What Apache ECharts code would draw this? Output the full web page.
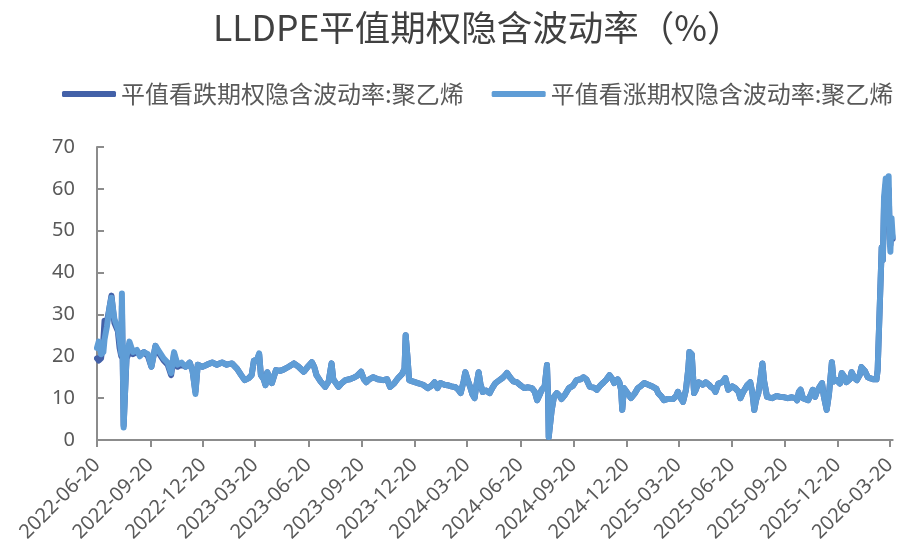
<!DOCTYPE html>
<html>
<head>
<meta charset="utf-8">
<script src="https://cdn.jsdelivr.net/npm/echarts@6/dist/echarts.min.js"></script>
<style>
	html, body { margin: 0; padding: 0; background: #fff; }
	#main { width: 899px; height: 550px; }
</style>
</head>
<body>
<div id="main"></div>
<script>
// 日期（抽样）
var dates = [
	'2022-06-20','2022-06-23','2022-06-27','2022-07-01','2022-07-03','2022-07-07','2022-07-12','2022-07-15','2022-07-20','2022-07-26',
	'2022-07-29','2022-08-01','2022-08-02','2022-08-05','2022-08-10','2022-08-15','2022-08-21','2022-08-28','2022-09-02','2022-09-09',
	'2022-09-16','2022-09-22','2022-09-29','2022-10-06','2022-10-13','2022-10-20','2022-10-26','2022-10-31','2022-11-06','2022-11-13',
	'2022-11-20','2022-11-27','2022-12-02','2022-12-07','2022-12-11','2022-12-19','2022-12-27','2023-01-05','2023-01-13','2023-01-22',
	'2023-01-30','2023-02-08','2023-02-17','2023-02-24','2023-03-02','2023-03-09','2023-03-14','2023-03-18','2023-03-23','2023-03-27',
	'2023-03-30','2023-04-04','2023-04-07','2023-04-10','2023-04-14','2023-04-18','2023-04-25','2023-05-02','2023-05-08','2023-05-17',
	'2023-05-26','2023-06-03','2023-06-12','2023-06-19','2023-06-26','2023-06-30','2023-07-04','2023-07-11','2023-07-19','2023-07-25',
	'2023-07-30','2023-08-02','2023-08-11','2023-08-16','2023-08-23','2023-08-30','2023-09-05','2023-09-12','2023-09-19','2023-09-24',
	'2023-09-28','2023-10-03','2023-10-10','2023-10-18','2023-10-27','2023-11-03','2023-11-08','2023-11-15','2023-11-22','2023-11-29',
	'2023-12-03','2023-12-05','2023-12-08','2023-12-11','2023-12-17','2023-12-26','2024-01-04','2024-01-12','2024-01-19','2024-01-24',
	'2024-01-29','2024-02-03','2024-02-10','2024-02-15','2024-02-22','2024-02-29','2024-03-05','2024-03-09','2024-03-14','2024-03-17',
	'2024-03-22','2024-03-26','2024-03-29','2024-04-02','2024-04-05','2024-04-09','2024-04-12','2024-04-16','2024-04-22','2024-04-28',
	'2024-05-03','2024-05-08','2024-05-15','2024-05-20','2024-05-25','2024-05-28','2024-06-02','2024-06-08','2024-06-14','2024-06-21',
	'2024-06-27','2024-07-02','2024-07-10','2024-07-15','2024-07-19','2024-07-24','2024-07-27','2024-08-01','2024-08-05','2024-08-07',
	'2024-08-08','2024-08-13','2024-08-17','2024-08-22','2024-08-27','2024-08-30','2024-09-05','2024-09-12','2024-09-19','2024-09-25',
	'2024-10-02','2024-10-07','2024-10-12','2024-10-18','2024-10-25','2024-10-30','2024-11-05','2024-11-11','2024-11-16','2024-11-21',
	'2024-11-26','2024-11-29','2024-12-05','2024-12-08','2024-12-11','2024-12-13','2024-12-16','2024-12-23','2024-12-28','2025-01-03',
	'2025-01-09','2025-01-15','2025-01-20','2025-01-27','2025-02-04','2025-02-10','2025-02-13','2025-02-18','2025-02-23','2025-03-02',
	'2025-03-11','2025-03-16','2025-03-19','2025-03-24','2025-03-28','2025-04-02','2025-04-06','2025-04-08','2025-04-12','2025-04-16',
	'2025-04-19','2025-04-24','2025-05-01','2025-05-06','2025-05-11','2025-05-15','2025-05-20','2025-05-23','2025-05-28','2025-06-04',
	'2025-06-09','2025-06-14','2025-06-21','2025-06-26','2025-07-02','2025-07-05','2025-07-10','2025-07-17','2025-07-22','2025-07-26',
	'2025-07-29','2025-08-01','2025-08-05','2025-08-08','2025-08-12','2025-08-15','2025-08-20','2025-08-29','2025-09-05','2025-09-12',
	'2025-09-19','2025-09-25','2025-10-02','2025-10-08','2025-10-11','2025-10-14','2025-10-17','2025-10-21','2025-10-30','2025-11-04',
	'2025-11-07','2025-11-11','2025-11-14','2025-11-18','2025-11-23','2025-11-26','2025-12-01','2025-12-05','2025-12-10','2025-12-13',
	'2025-12-18','2025-12-24','2025-12-27','2026-01-01','2026-01-04','2026-01-10','2026-01-13','2026-01-18','2026-01-22','2026-01-27',
	'2026-01-30','2026-02-05','2026-02-10','2026-02-15','2026-02-20','2026-02-25','2026-02-27','2026-03-06','2026-03-08','2026-03-10',
	'2026-03-13','2026-03-16','2026-03-18','2026-03-20','2026-03-21','2026-03-23','2026-03-25'
];

// 平值看跌期权隐含波动率:聚乙烯
var putIV = [
	19.5,19,19.5,24,28.5,28,32,34.5,28,26,
	22,20,32,3.5,19.5,21,20.5,21,20.5,21,
	20,17.5,22.5,20.5,19,18,15.5,20.5,17.5,18,
	17.5,18.5,16.5,11.5,18,17.5,18,18.5,18,18.5,
	18,18.3,17,15.5,14.3,14.8,15.5,19,19,20.5,
	15.5,14.5,13.1,16.2,15,13.6,16.7,16.5,16.8,17.5,
	18.3,17.5,16.3,17.5,18.6,17.5,15.5,14,12.7,14,
	18.3,14.5,12.7,13.5,14.3,14.5,14.8,15.3,16.3,14.5,
	13.8,14.5,15,14.5,14.3,14.5,12.7,13.5,14.8,15.8,
	17,25,20,14.3,14,13.6,13.2,12.4,13,13.8,
	12.4,13.6,13.2,13.1,12.8,12.6,12,11.2,14,16.2,
	14,12.4,11,10,13,16.2,13.5,11.5,11.8,11.2,
	12.5,13.6,14.3,14.8,15.5,16,15,14,13.8,13,
	12.4,12.6,12.4,11.5,9.5,11,12,12.8,17.9,10,
	0.7,7,10.3,11.2,10.5,9.8,10.8,12.4,13,14.3,
	14.5,15,14.5,12.7,12.5,12,13,13.8,14.5,15.5,
	14.5,13.6,14.5,13.8,12,7.2,12.4,11,10,11,
	12.4,13,13.6,13.2,12.7,12.2,11.2,10.5,9.5,9.8,
	9.8,10.5,11.5,10,9.1,12,17,21,20.5,11.2,
	12,13.8,13.2,13.8,13.3,12.7,12.2,11.5,13.5,13.8,
	14.8,12,12.8,12.4,11.5,10,11.5,13.1,13.8,11,
	7.2,9.5,11.2,14,18.3,14,10.3,10,10.5,10.3,
	10.2,10,10.2,10,9.5,11.5,12,10,9.5,11,
	12,10.3,11.5,12.5,13.6,10.5,7.2,11,18.6,14,
	14.3,13.5,16,15,13.8,14.5,16.2,14.8,14.3,15.5,
	17.4,16.5,15,14.7,14.5,14.5,16.7,46,43,56,
	61,59,60,48,46.5,50,48
];

// 平值看涨期权隐含波动率:聚乙烯
var callIV = [
	22,23.5,20.5,21,24,27,32,34,29,26.5,
	24,20.5,35,3,20,23.5,21,21.5,20,21,
	20.5,17.5,22.5,21,19.5,18.5,16,21,18,18.5,
	17.5,18.5,16.5,11,18,17.5,18,18.5,18,18.5,
	18,18.3,17,15.5,14.3,14.8,15.5,19,19,20.7,
	15.5,14.5,13.1,16.2,15,13.6,16.7,16.5,16.8,17.5,
	18.3,17.5,16.3,17.5,18.6,17.5,15.5,14,12.7,14,
	18.3,14.5,12.7,13.5,14.3,14.5,14.8,15.3,16.3,14.5,
	13.8,14.5,15,14.5,14.3,14.5,12.7,13.5,14.8,15.8,
	17,25,20,14.3,14,13.6,13.2,12.4,13,13.8,
	12.4,13.6,13.2,13.1,12.8,12.6,12,11.2,14,16.2,
	14,12.4,11,10,13,16.2,13.5,11.5,11.8,11.2,
	12.5,13.6,14.3,14.8,15.5,16,15,14,13.8,13,
	12.4,12.6,12.4,11.5,9.5,11,12,12.8,17.9,10,
	0.7,7,10.3,11.2,10.5,9.8,10.8,12.4,13,14.3,
	14.5,15,14.5,12.7,12.5,12,13,13.8,14.5,15.5,
	14.5,13.6,14.5,13.8,12,7.2,12.4,11,10,11,
	12.4,13,13.6,13.2,12.7,12.2,11.2,10.5,9.5,9.8,
	9.8,10.5,11.5,10,9.1,12,17,21,20.5,11.2,
	12,13.8,13.2,13.8,13.3,12.7,12.2,11.5,13.5,13.8,
	14.8,12,12.8,12.4,11.5,10,11.5,13.1,13.8,11,
	7.2,9.5,11.2,14,18.3,14,10.3,10,10.5,10.3,
	10.2,10,10.2,10,9.5,11.5,12,10,9.5,11,
	12,10.3,11.5,12.5,13.6,10.5,7.2,11,18.6,14,
	14.3,13.5,16,15,13.8,14.5,16.2,14.8,14.3,15.5,
	17.4,16.5,15,14.7,14.5,14.5,16.7,46,43,58,
	62.5,60,63,47,45,53,48.5
];

// 横轴刻度
var tickDates = [
	'2022-06-20','2022-09-20','2022-12-20','2023-03-20','2023-06-20','2023-09-20',
	'2023-12-20','2024-03-20','2024-06-20','2024-09-20','2024-12-20','2025-03-20',
	'2025-06-20','2025-09-20','2025-12-20','2026-03-20'
];

var seriesNames = ['平值看跌期权隐含波动率:聚乙烯', '平值看涨期权隐含波动率:聚乙烯'];

function ts(s) {
	var p = s.split('-');
	return new Date(+p[0], +p[1] - 1, +p[2]).getTime();
}
function pad(n) {
	return n < 10 ? '0' + n : '' + n;
}
function fmt(v) {
	var d = new Date(v);
	return d.getFullYear() + '-' + pad(d.getMonth() + 1) + '-' + pad(d.getDate());
}
function pairs(vals) {
	var out = [];
	for(var i = 0; i < dates.length; i++) {
		out.push([ts(dates[i]), vals[i]]);
	}
	return out;
}

var tickValues = tickDates.map(ts);
var axisGrey = '#8c8c8c';
var textGrey = '#595959';

var chart = echarts.init(document.getElementById('main'));
chart.setOption({
	animation: false,
	title: {
		text: 'LLDPE平值期权隐含波动率（%）',
		left: 208,
		top: 5,
		textStyle: {
			fontFamily: 'Noto Sans CJK SC',
			fontSize: 35.5,
			fontWeight: 'normal',
			color: '#404040'
		}
	},
	legend: {
		data: seriesNames,
		left: 62,
		top: 82,
		width: 836,
		padding: 0,
		itemWidth: 54,
		itemHeight: 6,
		itemGap: 28,
		icon: 'roundRect',
		textStyle: {
			fontFamily: 'Noto Sans CJK SC',
			fontSize: 24,
			color: textGrey
		}
	},
	grid: {
		left: 97,
		right: 1,
		top: 147,
		bottom: 110
	},
	xAxis: {
		type: 'value',
		min: ts('2022-06-20'),
		max: ts('2026-03-25'),
		axisLine: {
			show: true,
			onZero: false,
			lineStyle: { color: axisGrey, width: 2 }
		},
		axisTick: {
			show: true,
			length: 7,
			customValues: tickValues,
			lineStyle: { color: axisGrey, width: 2 }
		},
		axisLabel: {
			customValues: tickValues,
			formatter: fmt,
			rotate: 45,
			margin: 22,
			fontFamily: 'Noto Sans',
			fontSize: 20,
			color: textGrey,
			showMinLabel: true,
			showMaxLabel: true,
			hideOverlap: false
		},
		splitLine: { show: false }
	},
	yAxis: {
		type: 'value',
		min: 0,
		max: 70,
		interval: 10,
		axisLine: {
			show: true,
			lineStyle: { color: axisGrey, width: 2 }
		},
		axisTick: {
			show: true,
			inside: true,
			length: 7,
			lineStyle: { color: axisGrey, width: 2 }
		},
		axisLabel: {
			margin: 22,
			fontFamily: 'Noto Sans',
			fontSize: 20,
			color: textGrey
		},
		splitLine: { show: false }
	},
	series: [{
			name: seriesNames[0],
			type: 'line',
			showSymbol: false,
			data: pairs(putIV),
			itemStyle: { color: '#4361a8' },
			lineStyle: { color: '#4361a8', width: 6, join: 'round', cap: 'round' }
		},
		{
			name: seriesNames[1],
			type: 'line',
			showSymbol: false,
			data: pairs(callIV),
			itemStyle: { color: '#5f9dd6' },
			lineStyle: { color: '#5f9dd6', width: 6, join: 'round', cap: 'round' }
		}
	]
});
</script>
</body>
</html>
